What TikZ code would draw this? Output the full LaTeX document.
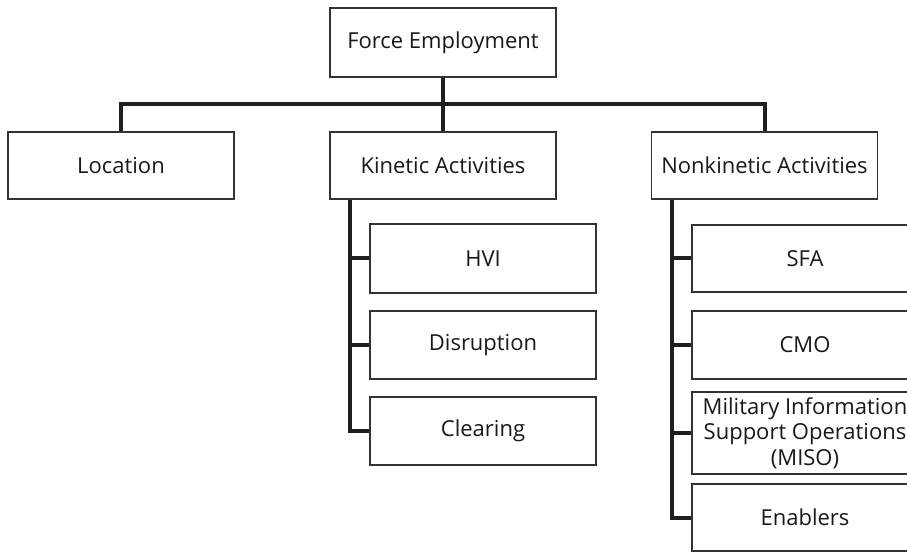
\documentclass[tikz,border=0pt]{standalone}
\usepackage{fontspec}
\setmainfont{Open Sans}
\begin{document}
\begin{tikzpicture}[x=0.75pt,y=-0.75pt,
  box/.style={draw=black!80,line width=1.1pt,fill=white,rectangle,
    minimum width=169.5pt,text=black!90,font=\fontsize{16.5}{19}\selectfont,
    align=center,inner sep=0pt},
  bus/.style={line width=3pt,draw=black!88}]
\clip (0,0) rectangle (907,552);
\fill[white] (0,0) rectangle (907,552);

% top level and first row
\node[box,minimum height=51.75pt] (fe)  at (443,42.5)  {Force Employment};
\node[box,minimum height=50.25pt] (loc) at (121,165.5) {Location};
\node[box,minimum height=50.25pt] (kin) at (443,165.5) {Kinetic Activities};
\node[box,minimum height=50.25pt] (nk)  at (764.5,165.5) {Nonkinetic Activities};

% kinetic children
\node[box,minimum height=51.75pt] (hvi) at (483,258.5) {HVI};
\node[box,minimum height=51pt]    (dis) at (483,345)   {Disruption};
\node[box,minimum height=51pt]    (clr) at (483,431)   {Clearing};

% nonkinetic children
\node[box,minimum height=50.25pt] (sfa) at (805,258.5) {SFA};
\node[box,minimum height=51pt]    (cmo) at (805,345)   {CMO};
\node[box,minimum height=61.5pt]  (miso) at (805,433)  {Military Information\\Support Operations\\(MISO)};
\node[box,minimum height=50.25pt] (enb) at (805,517.5) {Enablers};

% connectors
\coordinate (hub) at (443,104);
\coordinate (kx) at (350,0);
\coordinate (nx) at (672,0);
\draw[bus] (fe.south) -- (kin.north);
\draw[bus] (loc.north) |- (hub) -| (nk.north);

\draw[bus] (kin.south -| kx) |- (clr.west);
\draw[bus] (hvi.west -| kx) -- (hvi.west);
\draw[bus] (dis.west -| kx) -- (dis.west);

\draw[bus] (nk.south -| nx) |- (enb.west);
\draw[bus] (sfa.west -| nx) -- (sfa.west);
\draw[bus] (cmo.west -| nx) -- (cmo.west);
\draw[bus] (miso.west -| nx) -- (miso.west);
\end{tikzpicture}
\end{document}
